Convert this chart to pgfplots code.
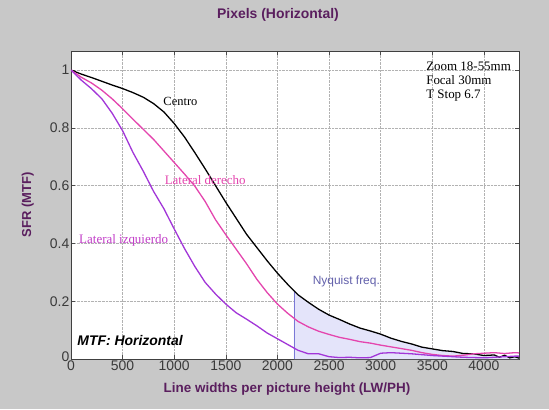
\documentclass[border=0pt]{standalone}
\usepackage{pgfplots}
\pgfplotsset{compat=1.18}
\usepackage{pgfplotstable}
\usepackage{fontspec}
\setmainfont{Liberation Serif}
\setsansfont{Liberation Sans}
\newfontfamily\arial{Liberation Sans}
\definecolor{bggray}{HTML}{C8C8C8}
\definecolor{ttl}{HTML}{5A1E5E}
\definecolor{pinkc}{HTML}{E445AE}
\definecolor{purpc}{HTML}{A236D8}
\definecolor{izq}{HTML}{C23CC8}
\definecolor{nyq}{HTML}{7A78D6}
\definecolor{nyqfill}{HTML}{E4E4FA}
\definecolor{tickc}{HTML}{3A3A3A}

\pgfplotstableread{
x y
0 1
100 0.986
200 0.974
300 0.961
400 0.948
500 0.936
600 0.922
700 0.906
800 0.884
900 0.855
1000 0.815
1100 0.768
1200 0.714
1300 0.658
1400 0.600
1500 0.542
1600 0.487
1700 0.432
1800 0.386
1900 0.340
2000 0.297
2100 0.258
2200 0.222
2300 0.196
2400 0.172
2500 0.152
2600 0.137
2700 0.121
2800 0.107
2900 0.097
3000 0.086
3100 0.072
3200 0.061
3300 0.052
3400 0.041
3500 0.035
3600 0.029
3700 0.026
3800 0.019
3900 0.018
4000 0.012
4100 0.014
4150 0.006
4200 0.013
4250 0.004
4300 0.008
4340 0.003
}\centro

\pgfplotstableread{
x y
2160 0
2160 0.236
2200 0.222
2300 0.196
2400 0.172
2500 0.152
2600 0.137
2700 0.121
2800 0.107
2900 0.097
3000 0.086
3100 0.072
3200 0.061
3300 0.052
3400 0.041
3500 0.035
3600 0.029
3700 0.026
3800 0.019
3900 0.018
4000 0.012
4100 0.014
4150 0.006
4200 0.013
4250 0.004
4300 0.008
4340 0.003
4340 0
}\nyqarea

\pgfplotstableread{
x y
0 1
100 0.975
200 0.955
300 0.930
400 0.900
500 0.866
600 0.830
700 0.795
800 0.760
900 0.720
1000 0.680
1100 0.640
1200 0.598
1300 0.545
1400 0.482
1500 0.430
1600 0.380
1700 0.330
1800 0.276
1900 0.230
2000 0.190
2100 0.158
2200 0.130
2300 0.111
2400 0.096
2500 0.085
2600 0.075
2700 0.068
2800 0.060
2900 0.055
3000 0.048
3100 0.042
3200 0.036
3300 0.030
3400 0.022
3500 0.016
3600 0.012
3700 0.010
3800 0.013
3900 0.018
4000 0.020
4100 0.022
4200 0.019
4300 0.022
4340 0.021
}\derecho

\pgfplotstableread{
x y
0 1
100 0.965
200 0.935
300 0.900
400 0.850
500 0.790
600 0.715
700 0.650
800 0.580
900 0.520
1000 0.450
1100 0.382
1200 0.320
1300 0.265
1400 0.225
1500 0.190
1600 0.160
1700 0.138
1800 0.115
1900 0.090
2000 0.070
2100 0.050
2200 0.030
2300 0.018
2400 0.018
2500 0.008
2600 0.005
2700 0.006
2800 0.004
2900 0.005
3000 0.020
3100 0.022
3200 0.020
3300 0.018
3400 0.015
3500 0.012
3600 0.010
3700 0.008
3800 0.006
3900 0.005
4000 0.004
4100 0.006
4200 0.008
4300 0.010
4340 0.010
}\izquierdo

\begin{document}
\begin{tikzpicture}[x=1bp,y=1bp]
\fill[bggray] (0,0) rectangle (549,409);
\useasboundingbox (0,0) rectangle (549,409);
\node[font=\arial\bfseries\fontsize{14}{16}\selectfont, text=ttl] at (278,394) {Pixels (Horizontal)};
\begin{axis}[
  at={(71bp,50bp)}, anchor=south west,
  width=448bp, height=308bp, scale only axis,
  xmin=0, xmax=4340, ymin=0, ymax=1.066,
  axis background/.style={fill=white},
  axis line style={draw=black!75, line width=0.8pt},
  xtick={0,500,...,4000},
  ytick={0,0.2,0.4,0.6,0.8,1},
  yticklabels={\raisebox{5bp}{0},0.2,0.4,0.6,0.8,1},
  xticklabels={0,500,1000,1500,2000,2500,3000,3500,4000},
  tick align=inside,
  tick pos=both,
  major tick length=4bp,
  tick style={black!70, line width=0.6pt},
  grid=major,
  grid style={densely dotted, black!30, line width=0.6pt},
  ticklabel style={font=\arial\fontsize{14}{16}\selectfont, text=tickc},
  yticklabel style={inner xsep=1.5bp},
  xticklabel style={inner ysep=2bp},
  xlabel={Line widths per picture height (LW/PH)},
  ylabel={SFR (MTF)},
  xlabel style={font=\arial\bfseries\fontsize{13.5}{15}\selectfont, text=ttl, yshift=-6bp, xshift=-8bp},
  ylabel style={font=\arial\bfseries\fontsize{13}{15}\selectfont, text=ttl, yshift=11bp},
  clip=true,
]
\addplot[fill=nyqfill, draw=none] table[x=x,y=y] {\nyqarea};
\addplot[nyq, line width=0.9pt] coordinates {(2160,0) (2160,0.236)};
\addplot[black, line width=1.3pt] table[x=x,y=y] {\centro};
\addplot[pinkc, line width=1.3pt] table[x=x,y=y] {\derecho};
\addplot[purpc, line width=1.3pt] table[x=x,y=y] {\izquierdo};
\node[font=\fontsize{12.5}{14}\selectfont, black] at (axis cs:1060,0.89) {Centro};
\node[font=\fontsize{13}{14}\selectfont, pinkc] at (axis cs:1300,0.619) {Lateral derecho};
\node[font=\fontsize{13}{14}\selectfont, izq] at (axis cs:510,0.41) {Lateral izquierdo};
\node[font=\arial\fontsize{12}{14}\selectfont, nyq!80!black, anchor=west, inner sep=0pt] at (axis cs:2340,0.27) {Nyquist freq.};
\node[font=\fontsize{13}{14}\selectfont, anchor=north west, align=left, inner sep=0pt] at (axis cs:3440,1.03) {Zoom 18-55mm\\Focal 30mm\\T Stop 6.7};
\node[font=\arial\bfseries\itshape\fontsize{14}{16}\selectfont, anchor=west, inner sep=0pt] at (axis cs:60,0.065) {MTF: Horizontal};
\end{axis}
\end{tikzpicture}
\end{document}
